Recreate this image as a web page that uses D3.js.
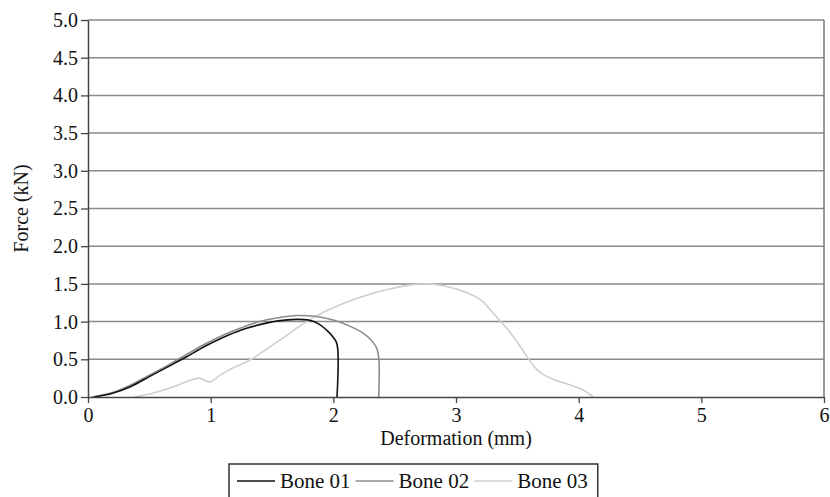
<!DOCTYPE html>
<html>
<head>
<meta charset="utf-8">
<script src="https://cdn.jsdelivr.net/npm/d3@7"></script>
<style>
  body { margin: 0; background: #fff; }
  svg, svg text { font-family: "Liberation Serif", "Times New Roman", Times, "DejaVu Serif", serif !important; }
</style>
</head>
<body>
<div id="chart"></div>
<script>
// values: [deformation mm, force kN]
const bone01 = [
  [0.05, 0.00], [0.20, 0.05], [0.35, 0.14], [0.50, 0.27], [0.65, 0.40], [0.80, 0.53],
  [0.95, 0.67], [1.10, 0.79], [1.25, 0.89], [1.40, 0.96], [1.55, 1.01], [1.70, 1.03],
  [1.80, 1.02], [1.88, 0.97], [1.95, 0.88], [2.00, 0.79], [2.03, 0.70], [2.03, 0.00]
];
const bone02 = [
  [0.03, 0.00], [0.20, 0.06], [0.35, 0.16], [0.50, 0.29], [0.65, 0.42], [0.80, 0.56],
  [0.95, 0.70], [1.10, 0.82], [1.25, 0.92], [1.40, 1.00], [1.55, 1.05], [1.70, 1.08],
  [1.85, 1.07], [2.00, 1.02], [2.12, 0.95], [2.22, 0.87], [2.30, 0.77], [2.35, 0.66],
  [2.37, 0.52], [2.37, 0.00]
];
const bone03 = [
  [0.38, 0.00], [0.50, 0.04], [0.61, 0.09], [0.72, 0.15], [0.83, 0.22], [0.91, 0.25],
  [0.99, 0.20], [1.07, 0.28], [1.15, 0.36], [1.32, 0.49], [1.56, 0.75], [1.80, 1.02],
  [2.05, 1.22], [2.25, 1.34], [2.45, 1.43], [2.65, 1.49], [2.78, 1.50], [2.94, 1.46],
  [3.08, 1.39], [3.20, 1.29], [3.32, 1.08], [3.44, 0.86], [3.54, 0.63], [3.62, 0.44],
  [3.69, 0.32], [3.80, 0.23], [3.93, 0.16], [4.04, 0.09], [4.12, 0.00]
];
const seriesNames = ["Bone 01", "Bone 02", "Bone 03"];
const seriesData = [bone01, bone02, bone03];
const xTicks = [0, 1, 2, 3, 4, 5, 6];
const yTicks = [0, 0.5, 1, 1.5, 2, 2.5, 3, 3.5, 4, 4.5, 5];

const colors = ["#111111", "#8c8c8c", "#cfcfcf"];
const W = 830, H = 497;
const plot = { left: 88, right: 824, top: 20, bottom: 397 };
const tickFont = 20, titleFont = 20, legendFont = 21;

const svg = d3.select("#chart").append("svg")
  .attr("width", W).attr("height", H);

const x = d3.scaleLinear().domain([0, 6]).range([plot.left, plot.right]);
const y = d3.scaleLinear().domain([0, 5]).range([plot.bottom, plot.top]);

// gridlines
svg.append("g")
  .selectAll("line")
  .data(yTicks.filter(d => d > 0))
  .join("line")
  .attr("x1", plot.left).attr("x2", plot.right)
  .attr("y1", d => y(d)).attr("y2", d => y(d))
  .attr("stroke", "#8a8a8a").attr("stroke-width", 1.5);

// right border
svg.append("line")
  .attr("x1", plot.right).attr("x2", plot.right)
  .attr("y1", plot.top).attr("y2", plot.bottom)
  .attr("stroke", "#777").attr("stroke-width", 1.5);

// curves
const lineV = d3.line().x(d => x(d[0])).y(d => y(d[1])).curve(d3.curveCatmullRom.alpha(0.5));
svg.append("g")
  .selectAll("path")
  .data(seriesData.slice().reverse())
  .join("path")
  .attr("d", d => lineV(d))
  .attr("fill", "none")
  .attr("stroke", (d, i) => colors[2 - i])
  .attr("stroke-width", 1.6);

// axes
const xAxis = d3.axisBottom(x).tickValues(xTicks).tickFormat(d3.format("d")).tickSize(6).tickSizeOuter(0);
const gx = svg.append("g")
  .attr("transform", `translate(0,${plot.bottom})`)
  .call(xAxis)
  .attr("font-family", null);
gx.select(".domain").attr("stroke", "#444").attr("stroke-width", 1.5);
gx.selectAll(".tick line").attr("stroke", "#444").attr("stroke-width", 1.3);
gx.selectAll("text").attr("font-size", tickFont).attr("fill", "#111").attr("dy", "0.8em");

const yAxis = d3.axisLeft(y).tickValues(yTicks).tickFormat(d3.format(".1f")).tickSize(7).tickSizeOuter(0);
const gy = svg.append("g")
  .attr("transform", `translate(${plot.left},0)`)
  .call(yAxis)
  .attr("font-family", null);
gy.select(".domain").attr("stroke", "#444").attr("stroke-width", 1.5);
gy.selectAll(".tick line").attr("stroke", "#444").attr("stroke-width", 1.3);
gy.selectAll("text").attr("font-size", tickFont).attr("fill", "#111").attr("x", -10);

// axis titles
svg.append("text")
  .attr("x", (plot.left + plot.right) / 2).attr("y", 445)
  .attr("text-anchor", "middle").attr("font-size", titleFont).attr("fill", "#111")
  .text("Deformation (mm)");
svg.append("text")
  .attr("transform", `translate(28,${(plot.top + plot.bottom) / 2}) rotate(-90)`)
  .attr("text-anchor", "middle").attr("font-size", titleFont).attr("fill", "#111")
  .text("Force (kN)");

// legend
const legend = svg.append("g").attr("transform", "translate(229,464)");
const box = legend.append("rect")
  .attr("x", 0).attr("y", 0).attr("height", 40)
  .attr("fill", "#fff").attr("stroke", "#333").attr("stroke-width", 1.5);
let lx = 8;
seriesNames.forEach((name, i) => {
  legend.append("line")
    .attr("x1", lx).attr("x2", lx + 38).attr("y1", 17).attr("y2", 17)
    .attr("stroke", colors[i]).attr("stroke-width", 1.6);
  const t = legend.append("text")
    .attr("x", lx + 43).attr("y", 24)
    .attr("font-size", legendFont).attr("fill", "#111")
    .text(name);
  lx += 43 + t.node().getComputedTextLength() + 5;
});
box.attr("width", lx + 5);
</script>
</body>
</html>
